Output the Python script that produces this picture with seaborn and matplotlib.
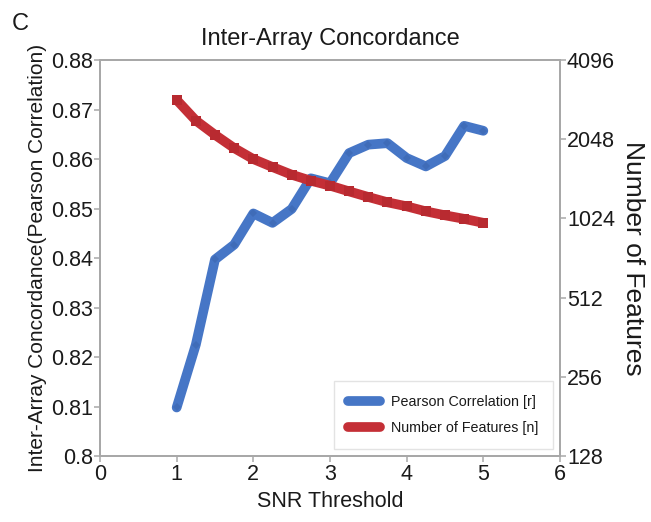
import matplotlib
matplotlib.use("Agg")
import matplotlib.pyplot as plt
import seaborn as sns
import pandas as pd
from matplotlib.ticker import FixedLocator, FixedFormatter
from matplotlib.lines import Line2D

sns.set_style("white")
plt.rcParams['font.family'] = ['Liberation Sans', 'DejaVu Sans']

snr = [1.0, 1.25, 1.5, 1.75, 2.0, 2.25, 2.5, 2.75, 3.0, 3.25, 3.5, 3.75, 4.0, 4.25, 4.5, 4.75, 5.0]
pearson = [0.8098, 0.8225, 0.8397, 0.8427, 0.8490, 0.8471, 0.8499, 0.8561, 0.8551,
           0.8612, 0.8629, 0.8632, 0.8602, 0.8585, 0.8606, 0.8667, 0.8657]
features = [2888, 2412, 2128, 1895, 1721, 1605, 1501, 1424, 1364,
            1297, 1235, 1179, 1138, 1089, 1052, 1020, 985]

left_ticks = [0.80, 0.81, 0.82, 0.83, 0.84, 0.85, 0.86, 0.87, 0.88]
left_labels = ["0.8", "0.81", "0.82", "0.83", "0.84", "0.85", "0.86", "0.87", "0.88"]
right_ticks = [128, 256, 512, 1024, 2048, 4096]
right_labels = ["128", "256", "512", "1024", "2048", "4096"]
x_ticks = [0, 1, 2, 3, 4, 5, 6]

df = pd.DataFrame({"snr": snr, "pearson": pearson, "features": features})

blue = "#4676C6"
red = "#C42F36"
spine_c = "#A8A8A8"
text_c = "#1a1a1a"

fig = plt.figure(figsize=(6.51, 5.22), dpi=100)
ax = fig.add_axes([100/651, 1-456/522, (560-100)/651, (456-60)/522])
ax2 = ax.twinx()

sns.lineplot(data=df, x="snr", y="pearson", ax=ax, color=blue, linewidth=7,
             marker="D", markersize=4, markeredgewidth=0, markerfacecolor="#3f6cb8",
             solid_capstyle="round", solid_joinstyle="round")
sns.lineplot(data=df, x="snr", y="features", ax=ax2, color=red, linewidth=7,
             marker="s", markersize=7, markeredgewidth=0, markerfacecolor="#b82a30",
             solid_capstyle="butt", solid_joinstyle="round")

ax.set_xlim(0, 6)
ax.set_ylim(0.80, 0.88)
ax2.set_yscale("log", base=2)
ax2.set_ylim(128, 4096)

ax.xaxis.set_major_locator(FixedLocator(x_ticks))
ax.set_xticklabels([str(t) for t in x_ticks])
ax.yaxis.set_major_locator(FixedLocator(left_ticks))
ax.yaxis.set_major_formatter(FixedFormatter(left_labels))
ax2.yaxis.set_major_locator(FixedLocator(right_ticks))
ax2.yaxis.set_major_formatter(FixedFormatter(right_labels))
ax2.yaxis.set_minor_locator(FixedLocator([]))

for a in (ax, ax2):
    for s in a.spines.values():
        s.set_color(spine_c)
        s.set_linewidth(1.3)
    a.tick_params(colors=text_c, labelsize=15.5, length=4, width=1.1, direction="out",
                  color=spine_c, pad=1)
ax.tick_params(axis="y", left=True, right=False)
ax.tick_params(axis="x", bottom=True, pad=2)
ax2.tick_params(axis="y", right=True, left=False)

ax.set_xlabel("SNR Threshold", fontsize=15.5, color=text_c, labelpad=4)
ax.set_ylabel("Inter-Array Concordance(Pearson Correlation)", fontsize=15, color=text_c, labelpad=3)
ax2.set_ylabel("Number of Features", fontsize=19, color=text_c, rotation=270, labelpad=22)
ax.set_title("Inter-Array Concordance", fontsize=17, color=text_c, pad=11)
fig.text(12/651, 1-30/522, "C", fontsize=17, color=text_c)

handles = [Line2D([0], [0], color=blue, linewidth=7, solid_capstyle="round"),
           Line2D([0], [0], color=red, linewidth=7, solid_capstyle="round")]
leg = ax2.legend(handles, ["Pearson Correlation [r]", "Number of Features [n]"],
                 loc="lower right", fontsize=10.3, frameon=True, fancybox=False,
                 edgecolor="#dddddd", handlelength=2.2, borderpad=1.0,
                 labelspacing=0.8, bbox_to_anchor=(1.0, 0.0))
for t in leg.get_texts():
    t.set_color(text_c)

fig.savefig("out.png", dpi=100)
